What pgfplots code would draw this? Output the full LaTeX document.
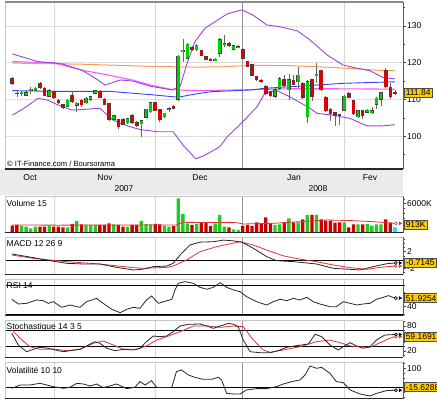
\documentclass[border=0pt]{standalone}
\usepackage{pgfplots}
\usepackage{pgfplotstable}
\pgfplotsset{compat=1.18}
\usepackage{fontspec}
\setmainfont{Liberation Sans}
\definecolor{cg}{HTML}{00D000}
\definecolor{cr}{HTML}{E00000}
\definecolor{vg}{HTML}{22CC22}
\definecolor{vr}{HTML}{CC0000}
\definecolor{vc}{HTML}{22DDFF}
\definecolor{orangeMA}{HTML}{FF9955}
\definecolor{pinkMA}{HTML}{FF55FF}
\definecolor{blueMA}{HTML}{3344FF}
\definecolor{bb}{HTML}{9944DD}
\definecolor{sig}{HTML}{E03333}
\definecolor{boxy}{HTML}{FFCC00}
\newcommand{\lbl}{\fontsize{8.5}{9}\selectfont}

% up (green) candles: index, open, high, low, close, volume (K)
\pgfplotstableread{
i o h l c v
2 111.6 112.4 110.8 111.9 1343
3 111.2 112.5 110.9 111.8 1131
4 112.4 113.3 111.4 112.8 778
5 112.5 113.4 112.2 113.1 1131
8 110.9 112.8 110.6 112.4 1273
12 108.2 110.1 107.9 109.8 990
14 108.4 109.3 106.6 109.0 2333
16 109.1 110.6 108.8 110.3 1485
17 110.0 110.9 109.7 110.7 1485
18 111.7 112.6 111.5 112.3 1485
22 104.6 105.7 104.3 105.5 1626
25 103.7 105.0 103.4 104.8 1131
28 103.4 104.5 99.7 104.2 2333
29 105.1 107.5 104.9 107.3 1697
30 106.7 109.4 106.4 109.1 1626
33 105.3 106.4 105.0 106.2 1343
34 107.2 108.0 106.6 107.4 1131
36 110.0 122.2 109.5 121.8 7141
37 123.2 126.6 120.3 123.4 3818
38 121.2 125.4 120.9 125.1 1838
40 123.5 125.1 123.2 124.8 1697
44 120.8 121.3 120.5 120.9 1838
45 122.6 126.7 121.5 126.2 3606
46 125.0 127.5 124.4 125.2 1131
48 123.7 124.9 123.4 124.6 566
49 124.2 124.7 123.9 124.4 424
57 110.9 113.0 110.5 112.7 1485
58 113.0 116.0 112.7 115.7 1626
60 112.6 116.8 109.8 115.3 2899
62 114.8 118.9 113.0 116.6 2050
64 105.3 115.3 103.5 114.8 3606
66 116.5 119.9 114.5 116.8 3606
72 107.1 111.2 106.8 110.9 2050
75 105.3 107.1 104.9 106.9 1626
77 106.5 107.3 106.3 107.1 1697
78 106.4 107.9 106.1 106.9 1343
79 108.7 110.6 107.5 110.3 1626
80 110.0 112.0 108.3 111.8 1626
}\up
% down (red) candles
\pgfplotstableread{
i o h l c v
0 115.7 116.2 114.0 114.4 1343
1 111.7 112.5 110.6 111.6 1485
6 114.4 114.8 112.9 113.3 1131
7 113.0 113.4 110.9 111.2 1131
9 112.1 112.4 110.2 110.6 1131
10 109.7 110.0 108.8 109.1 1131
11 108.5 108.8 107.5 107.9 990
13 111.2 112.4 108.9 109.4 1697
15 109.8 110.2 107.8 108.5 1626
19 112.1 112.5 110.3 110.6 1485
20 110.0 110.3 108.4 108.7 1485
21 108.9 109.1 104.2 104.4 1838
23 104.4 104.6 102.0 102.6 1485
24 104.6 104.9 103.0 103.3 1131
26 105.7 106.0 103.4 103.7 1485
27 103.7 104.0 102.5 102.8 1485
31 109.1 109.3 106.8 107.1 1697
32 107.3 107.5 103.9 104.4 1626
35 108.2 108.5 107.5 107.6 1273
39 124.2 124.6 123.1 123.5 1485
41 123.3 123.6 121.8 122.1 2050
42 121.6 121.9 120.7 121.0 2050
43 121.0 121.3 120.4 120.6 1273
47 125.3 125.6 124.3 124.6 990
50 123.7 124.0 120.9 121.2 1273
51 120.3 120.6 118.8 119.1 1485
52 119.4 119.7 116.3 116.6 1273
53 116.2 116.5 114.9 115.3 2050
54 115.2 115.5 114.6 115.0 1838
55 113.5 113.8 111.3 111.7 3111
56 112.1 112.4 110.7 111.2 1838
59 115.5 116.6 113.5 113.9 2050
61 115.1 116.6 113.9 114.2 2050
63 114.4 114.7 110.2 110.6 2687
65 115.3 115.6 109.5 110.7 3606
67 117.8 118.1 112.2 112.6 2687
68 110.6 110.9 106.5 106.9 2404
69 107.3 107.6 104.0 106.2 2404
70 106.3 106.5 102.8 105.7 1980
71 105.8 106.0 103.0 105.6 2050
73 111.7 112.0 110.3 110.6 990
74 109.6 109.9 105.8 106.2 1626
76 106.9 107.1 104.6 105.5 1626
81 117.8 118.5 113.2 113.5 2687
82 113.3 114.5 110.2 110.7 1980
83 111.9 112.6 111.3 111.84 913
}\down

\pgfplotsset{
  panel/.style={
    scale only axis, width=398pt, xmin=-1.58, xmax=84.75,
    anchor=south west, clip=false,
    axis line style={draw=none},
    xtick={9.05,30.95,72}, xticklabels={},
    xmajorgrids, major x grid style={black!16, line width=0.7pt},
    xtick style={draw=none},
    ytick pos=right, yticklabel pos=right, tick align=outside,
    major tick length=3pt, minor tick length=2pt,
    tick style={black!75, line width=0.5pt},
    yticklabel style={font=\lbl, anchor=west, inner sep=1pt},
  },
  wick/.style={draw=none, no markers, forget plot, error bars/.cd, y dir=both, y explicit, error mark=none,
    error bar style={draw=black!60, line width=0.7pt}},
  bodyk/.style={draw=none, no markers, forget plot, error bars/.cd, y dir=both, y explicit, error mark=none,
    error bar style={draw=black!75, line width=3.6pt}},
  bodyc/.style={draw=none, no markers, forget plot, error bars/.cd, y dir=both, y explicit, error mark=none,
    error bar style={draw=#1, line width=2.8pt}},
  endo/.style={only marks, mark=o, mark size=1.5pt, mark options={#1, line width=0.6pt}},
  enda/.style={only marks, mark=triangle*, mark size=1.7pt, mark options={#1, rotate=-90}},
}
\newcommand{\yearline}{\draw[black!42, line width=1.1pt] ({axis cs:50,0} |- {rel axis cs:0,0}) -- ({axis cs:50,0} |- {rel axis cs:0,1});}
\newcommand{\pframe}{%
  \draw[black!22, line width=0.6pt] (rel axis cs:0,0) -- (rel axis cs:0,1) -- (rel axis cs:1,1);
  \draw[black!85, line width=1pt] (rel axis cs:0,0) -- (rel axis cs:1,0);
  \draw[black!65, line width=0.8pt] (rel axis cs:1,0) -- (rel axis cs:1,1);}
\newcommand{\refline}[1]{\draw[black, line width=0.8pt] ({rel axis cs:0,0} |- {axis cs:0,#1}) -- ({rel axis cs:1,0} |- {axis cs:0,#1});}

\begin{document}
\begin{tikzpicture}[x=1pt,y=1pt]
\useasboundingbox (0,0) rectangle (437,402);
\fill[black!8] (0,206.5) rectangle (403,233);

% ---------------- main price chart
\begin{axis}[panel, at={(5pt,233pt)}, height=167pt, ymin=91.04, ymax=136.55,
  ytick={100,110,120,130}, yticklabels={100,110,120,130}, minor ytick={95,105,115,125,135},
  ymajorgrids, major y grid style={black!13, line width=0.6pt}]
\yearline
\addplot[orangeMA, line width=1pt] coordinates {(0,119.9) (15,119.6) (30,119.0) (40,118.8) (46,118.9) (52,119.3) (60,119.2) (68,118.8) (74,118.4) (80,117.9) (83,117.8)};
\addplot[pinkMA, line width=1.1pt] coordinates {(0,120.3) (9,120.0) (15,118.0) (21,116.6) (26,115.3) (30,113.9) (35,112.6) (40,112.4) (50,112.6) (60,112.9) (70,112.9) (83,112.8)};
\addplot[blueMA, line width=0.9pt] coordinates {(0,112.4) (9,112.2) (21,112.2) (30,111.3) (36,110.6) (38.5,111.2) (43,112.1) (52,112.6) (54.4,113.0) (62,113.6) (72,114.4) (83,114.8)};
\addplot[bb, line width=0.9pt] coordinates {(0,122.4) (5.6,120.3) (10.8,119.7) (15.1,118.0) (18.6,115.3) (20.1,113.9) (23.4,115.3) (26.2,115.0) (29.9,113.6) (34.6,112.6) (36.4,113.5) (37.9,119.8) (39.6,125.7) (41.8,129.4) (46.6,133.3) (49.8,134.4) (52.2,133.0) (55.2,130.3) (58.1,129.8) (61.8,128.7) (64.6,126.2) (68.3,122.1) (71.7,119.4) (74.8,118.5) (77.6,117.8) (80.4,116.0) (83,115.6)};
\addplot[bb, line width=0.9pt] coordinates {(0,105.7) (2.8,107.8) (5.6,110.3) (7.7,109.8) (9.9,108.5) (12.9,107.1) (15.8,107.3) (19,107.6) (21.8,104.4) (24.9,102.8) (27.7,101.8) (31.4,101.2) (34.9,101.2) (37,97.6) (39.8,93.8) (41.8,94.8) (45,97.1) (46.6,99.8) (50,103.9) (53.1,108.0) (54.8,111.7) (57.4,112.4) (60.2,110.7) (64.6,107.6) (66.1,106.2) (69.6,105.7) (73.3,104.8) (76.9,102.8) (80.4,102.8) (83,103.1)};
\addplot[wick] table[x=i, y expr={(\thisrow{h}+\thisrow{l})/2}, y error expr={(\thisrow{h}-\thisrow{l})/2}] {\up};
\addplot[wick] table[x=i, y expr={(\thisrow{h}+\thisrow{l})/2}, y error expr={(\thisrow{h}-\thisrow{l})/2}] {\down};
\addplot[bodyk] table[x=i, y expr={(\thisrow{o}+\thisrow{c})/2}, y error expr={abs(\thisrow{o}-\thisrow{c})/2+0.14}] {\up};
\addplot[bodyk] table[x=i, y expr={(\thisrow{o}+\thisrow{c})/2}, y error expr={abs(\thisrow{o}-\thisrow{c})/2+0.14}] {\down};
\addplot[bodyc=cg] table[x=i, y expr={(\thisrow{o}+\thisrow{c})/2}, y error expr={abs(\thisrow{o}-\thisrow{c})/2}] {\up};
\addplot[bodyc=cr] table[x=i, y expr={(\thisrow{o}+\thisrow{c})/2}, y error expr={abs(\thisrow{o}-\thisrow{c})/2}] {\down};
\draw[black!22, line width=0.6pt] (rel axis cs:0,0) -- (rel axis cs:0,1);
\draw[black!45, line width=2pt] (rel axis cs:0,1) -- (rel axis cs:1,1);
\draw[black!85, line width=1.2pt] (rel axis cs:0,0) -- (rel axis cs:1,0);
\draw[black!65, line width=0.8pt] (rel axis cs:1,0) -- (rel axis cs:1,1);
\end{axis}

% ---------------- volume
\begin{axis}[panel, at={(5pt,169pt)}, height=37pt, ymin=-212, ymax=7632,
  ytick={6000}, yticklabels={6000K}, minor ytick={1000,2000,3000,4000,5000,7000}]
\yearline
\addplot[ybar, bar width=3.3pt, bar shift=0pt, fill=vg, draw=none] table[x=i, y=v] {\up};
\addplot[ybar, bar width=3.3pt, bar shift=0pt, fill=vr, draw=none] table[x=i, y=v] {\down};
\addplot[ybar, bar width=3.3pt, bar shift=0pt, fill=vc, draw=none] coordinates {(83,913)};
\addplot[sig, line width=0.8pt] coordinates {(-0.1,1485) (10,1450) (20,1480) (27.7,1485) (35.5,1485) (37,2050) (48.7,1980) (50,1697) (56.5,1838) (62.4,2190) (68.3,2545) (73.9,2404) (78.2,2190) (83,1838)};
\addplot[endo=sig] coordinates {(83.2,1838)};
\addplot[enda=sig] coordinates {(84.1,1838)};
\pframe
\end{axis}

% ---------------- MACD
\begin{axis}[panel, at={(5pt,127.5pt)}, height=37pt, ymin=-3.49, ymax=5.42,
  ytick={-2,2}, yticklabels={-2,2}, minor ytick={-3,-1,0,1,3,4,5}]
\yearline
\refline{0}
\addplot[sig, line width=0.8pt] coordinates {(-0.1,1.2) (4.6,0.4) (11.8,-0.4) (19,-0.96) (26.3,-1.85) (28.4,-2.0) (33.5,-1.77) (34.9,-1.45) (37.8,0) (40.7,2.0) (44.3,3.2) (49.4,4.4) (52.3,3.6) (55.2,2.4) (58.8,1.0) (62.4,0.2) (66,-0.4) (69.6,-1.2) (73.3,-1.85) (76.9,-2.25) (79.8,-1.77) (83,-1.45)};
\addplot[black!85, line width=0.8pt] coordinates {(-0.1,1.45) (4.6,0.56) (8.2,-0.16) (11.8,-0.8) (15.4,-0.96) (19,-0.96) (22.6,-1.77) (26.3,-2.4) (28.4,-2.2) (30.6,-1.6) (33.5,-1.45) (34.9,-0.8) (36.4,1.2) (38.5,3.6) (40.7,4.3) (43.6,4.4) (45.8,4.8) (48,4.6) (49.8,4.3) (52.3,2.8) (55.2,0.8) (57.3,-0.16) (61,-0.4) (66,-0.96) (69.6,-2.0) (73.3,-2.25) (75.4,-2.4) (78.3,-1.6) (81.2,-0.9) (83,-0.71)};
\addplot[endo=sig] coordinates {(83.2,-1.45)};
\addplot[enda=sig] coordinates {(84.1,-1.45)};
\addplot[endo=black] coordinates {(83.2,-0.71)};
\addplot[enda=black] coordinates {(84.1,-0.71)};
\pframe
\end{axis}

% ---------------- RSI
\begin{axis}[panel, at={(5pt,86pt)}, height=37pt, ymin=27.24, ymax=78.28,
  ytick={40}, yticklabels={40}, minor ytick={30,50,60,70}]
\yearline
\refline{30}
\refline{70}
\addplot[black!85, line width=0.8pt] coordinates {(-0.1,50.3) (1.3,43.8) (3.1,44.7) (5.3,49.3) (6.7,48.4) (7.8,44.7) (8.9,47.0) (10.7,39.2) (12.5,42.4) (14.7,39.2) (16.1,47.0) (18.3,51.6) (19.7,44.7) (21.6,36.4) (23.4,31.8) (24.8,36.4) (26.3,39.2) (27.7,37.8) (29.1,49.3) (30.2,54.8) (31.7,44.7) (32.8,47.0) (34.6,50.3) (35.3,63.1) (36.0,72.3) (37.5,74.6) (39.3,72.3) (40.7,66.8) (42.2,64.1) (43.6,66.8) (45.1,73.2) (46.5,66.8) (48.0,63.1) (49.4,60.8) (50.8,53.9) (53.0,47.0) (55.2,42.4) (56.6,47.0) (58.1,50.3) (59.5,48.4) (61.0,51.6) (62.4,49.3) (63.9,53.0) (65.3,47.0) (66.7,43.8) (68.9,40.1) (70.3,40.1) (71.8,47.0) (73.3,44.7) (74.7,42.4) (76.1,43.8) (77.6,44.7) (79.0,50.3) (80.5,53.0) (81.6,55.3) (83.0,52.0)};
\addplot[endo=black] coordinates {(83.2,52.0)};
\addplot[enda=black] coordinates {(84.1,52.0)};
\pframe
\end{axis}

% ---------------- Stochastique
\begin{axis}[panel, at={(5pt,44.5pt)}, height=37pt, ymin=4.13, ymax=92.75,
  ytick={20,80}, yticklabels={20,80}, minor ytick={10,30,40,50,60,70,90}]
\yearline
\refline{30}
\refline{70}
\addplot[sig, line width=0.8pt] coordinates {(-0.1,70) (1.7,50.1) (3.8,30.0) (6.0,23.8) (8.9,24.5) (11.8,20.4) (14.7,23.8) (17.6,38.1) (19.7,43.7) (21.9,34.1) (24.1,23.8) (27.0,23.8) (29.1,31.7) (31.3,46.0) (33.5,54.0) (36.4,66.0) (39.3,79.6) (42.2,79.6) (45.1,76.4) (48.0,79.6) (50.1,78.0) (52.3,46.0) (54.4,22.1) (55.9,16.6) (58.8,22.1) (62.4,30.0) (66.0,42.0) (68.9,46.0) (71.1,39.6) (73.3,31.7) (75.4,30.0) (77.6,28.6) (79.8,39.6) (81.9,50.1) (83.0,54.0)};
\addplot[black!85, line width=0.8pt] coordinates {(-0.1,62.1) (1.3,34.1) (3.1,18.0) (4.6,23.8) (6.0,28.6) (7.8,26.2) (9.3,22.1) (11.1,18.0) (12.5,20.4) (14.7,23.8) (16.5,34.1) (17.9,42.0) (19.0,38.1) (20.5,26.2) (22.3,20.4) (24.1,23.8) (26.3,22.1) (27.7,26.2) (29.1,42.0) (30.6,55.6) (32.0,54.0) (33.5,55.6) (34.9,66.0) (36.4,79.6) (38.2,83.6) (40.7,84.4) (42.2,79.6) (43.6,74.0) (45.1,79.6) (46.9,86.0) (48.0,83.6) (49.0,78.0) (50.1,46.0) (51.6,18.0) (53.7,15.6) (55.9,15.6) (57.7,20.4) (59.5,28.6) (61.3,31.7) (62.8,34.1) (64.2,36.5) (65.7,59.7) (67.1,54.0) (68.9,34.1) (70.7,22.1) (71.8,30.0) (73.3,39.6) (74.7,31.7) (76.1,26.2) (77.6,30.0) (79.0,46.0) (80.8,58.0) (83.0,59.2)};
\addplot[endo=sig] coordinates {(83.2,54.0)};
\addplot[enda=sig] coordinates {(84.1,54.0)};
\addplot[endo=black] coordinates {(83.2,59.2)};
\addplot[enda=black] coordinates {(84.1,59.2)};
\pframe
\end{axis}

% ---------------- Volatilite
\begin{axis}[panel, at={(5pt,3pt)}, height=37pt, ymin=-61.6, ymax=133.2,
  ytick={100}, yticklabels={100}, minor ytick={-50,-25,0,25,50,75,125}]
\yearline
\refline{0}
\addplot[black!85, line width=0.8pt] coordinates {(-0.1,-5.3) (1.7,12.1) (3.8,12.1) (6.0,21) (7.5,12.1) (8.9,3.5) (11.1,-5.3) (12.5,0) (14.0,21) (15.4,17.5) (16.9,7) (18.3,17.5) (19.7,-1.8) (21.2,7) (22.6,17.5) (24.8,-7) (26.6,0) (27.7,29.8) (28.8,12.1) (30.2,35) (31.3,0) (32.8,-1.8) (34.6,0) (35.6,82.3) (36.7,91) (38.2,64.9) (39.6,52.6) (41.4,42) (43.2,42) (44.7,52.6) (45.4,38.6) (46.5,-31.8) (48.0,-35.3) (49.4,-35.3) (50.8,-14.1) (53.0,-7) (55.2,-7) (57.3,3.5) (58.8,17.5) (60.6,29.8) (62.4,38.6) (63.5,64.9) (64.6,112) (66.0,100) (67.1,105) (68.9,73.7) (70.3,29.8) (71.8,24.4) (73.3,-14.1) (75.4,-35.3) (77.6,-45.8) (79.0,-31.8) (81.2,-17.5) (83.0,-15.6)};
\addplot[endo=black] coordinates {(83.2,-15.6)};
\addplot[enda=black] coordinates {(84.1,-15.6)};
\pframe
\end{axis}

% ---------------- texts
\node[anchor=west, font=\fontsize{7.6}{8}\selectfont, inner sep=0pt] at (7,238.5) {© IT-Finance.com / Boursorama};
\begin{scope}[every node/.style={font=\lbl, inner sep=0pt}]
\node at (30,224.7) {Oct};
\node at (105,224.7) {Nov};
\node at (200,224.7) {Dec};
\node at (294,224.7) {Jan};
\node at (370,224.7) {Fev};
\node at (124,213) {2007};
\node at (318,213) {2008};
\node[anchor=west] at (6.5,198.7) {Volume 15};
\node[anchor=west] at (6.5,158.5) {MACD 12 26 9};
\node[anchor=west] at (6.5,116.3) {RSI 14};
\node[anchor=west] at (6.5,74.5) {Stochastique 14 3 5};
\node[anchor=west] at (6.5,32) {Volatilité 10 10};
\end{scope}
\begin{scope}[every node/.style={anchor=west, fill=boxy, draw=black!70, line width=0.5pt, font=\lbl, inner xsep=2pt, inner ysep=1.5pt, text height=6.2pt, text depth=0pt}]
\node at (403.5,309.4) {111.84};
\node at (403.5,177.3) {913K};
\node at (403.5,139.5) {-0.7145};
\node at (403.5,104) {51.9254};
\node at (403.5,65.5) {59.1691};
\node at (403.5,15) {-15.6288};
\end{scope}
\end{tikzpicture}
\end{document}
